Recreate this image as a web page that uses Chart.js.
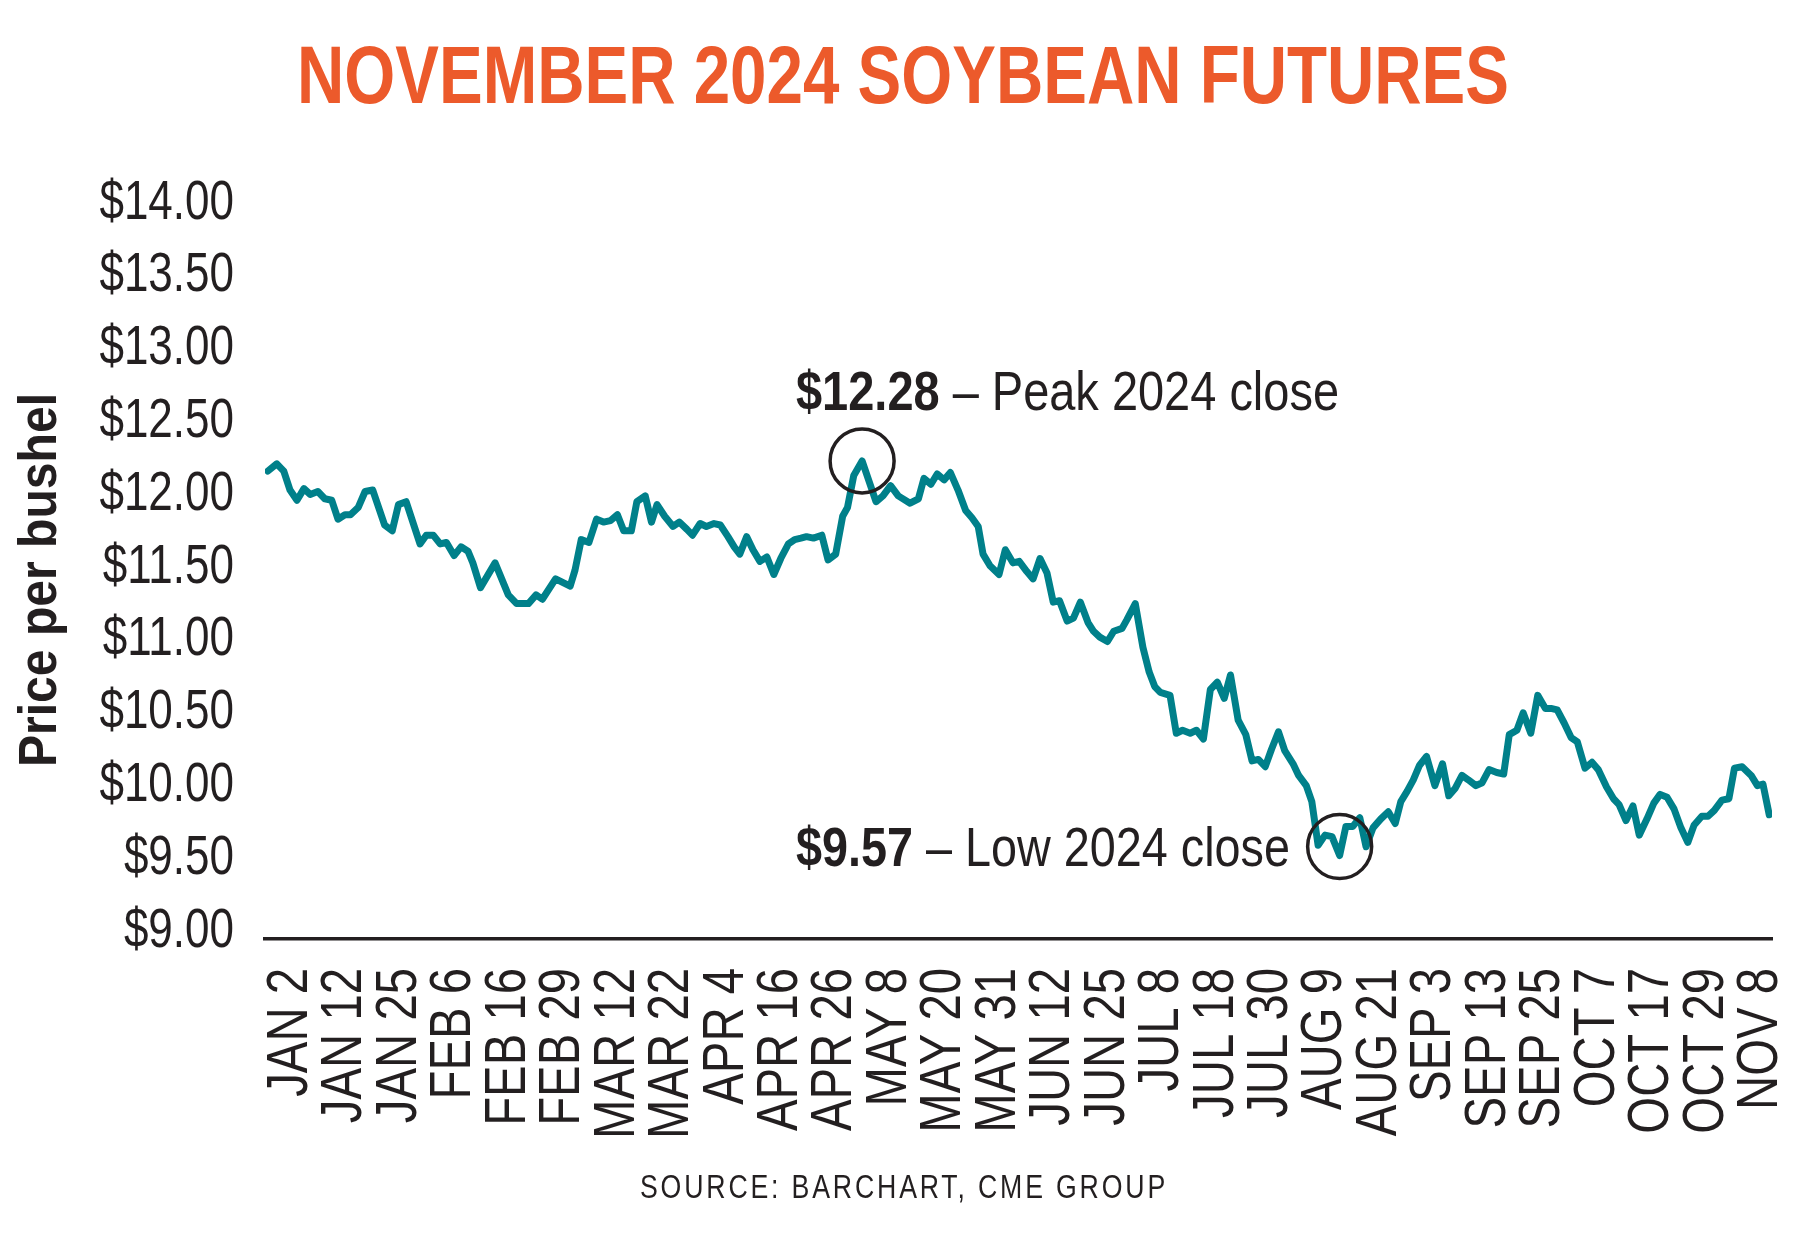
<!DOCTYPE html>
<html>
<head>
<meta charset="utf-8">
<script src="https://cdn.jsdelivr.net/npm/chart.js@4.4.1/dist/chart.umd.min.js"></script>
<style>
  html, body { margin: 0; padding: 0; background: #fff; }
  canvas { display: block; }
</style>
</head>
<body>
<canvas id="chart" width="1800" height="1236"></canvas>
<script>
// trading day index (0 = Jan 2) of each turn in the line, and the close there
const tradingDay = [
  0.0, 1.3, 2.3, 3.2, 4.2, 5.2, 6.1, 7.2, 8.2, 9.2, 10.1, 11.1, 11.9, 13.0, 14.0, 15.1, 16.8, 17.9, 18.8, 19.9,
  21.9, 22.8, 23.8, 24.8, 25.7, 26.8, 27.8, 28.8, 29.5, 30.6, 32.7, 34.6, 35.8, 37.5, 38.6, 39.5, 41.4, 43.5,
  44.2, 45.1, 46.2, 47.3, 48.3, 49.3, 50.3, 51.2, 52.3, 53.1, 54.3, 55.2, 56.0, 57.1, 58.3, 59.2, 60.3, 61.1,
  62.2, 63.1, 64.2, 65.1, 66.2, 67.1, 67.9, 68.9, 69.8, 70.8, 71.8, 72.8, 73.8, 74.9, 75.8, 76.7, 77.5, 78.5,
  79.7, 80.6, 81.7, 82.7, 83.4, 84.3, 85.5, 87.5, 88.5, 89.6, 90.7, 92.4, 93.6, 94.4, 95.4, 96.3, 97.3, 98.2,
  99.3, 100.4, 101.3, 102.2, 102.9, 103.9, 105.2, 106.1, 107.2, 108.1, 109.2, 110.1, 111.1, 112.1, 113.0, 113.9,
  115.0, 115.9, 116.9, 118.0, 118.8, 119.7, 120.8, 121.7, 122.9, 123.6, 124.8, 125.9, 126.8, 127.6, 128.4, 129.8,
  130.7, 131.6, 132.7, 133.6, 134.6, 135.6, 136.6, 137.6, 138.5, 139.6, 140.7, 141.6, 142.5, 143.5, 144.4, 145.4,
  146.3, 147.5, 148.3, 149.4, 150.2, 151.1, 152.1, 153.1, 154.2, 155.1, 156.1, 157.1, 158.0, 159.0, 160.1, 161.2,
  162.2, 163.0, 163.9, 164.8, 165.7, 166.7, 167.9, 169.0, 169.9, 170.8, 171.8, 172.7, 173.8, 174.7, 175.7, 176.8,
  177.8, 178.6, 179.7, 180.6, 181.7, 182.7, 183.8, 184.6, 185.5, 186.5, 187.5, 188.4, 189.5, 190.5, 191.4, 192.6,
  193.6, 194.4, 195.4, 196.4, 197.3, 198.4, 199.4, 200.3, 201.3, 202.3, 203.3, 204.3, 205.2, 206.3, 207.2, 208.1,
  209.2, 210.2, 211.0, 212.1, 213.4, 214.3, 215.1, 216.0
];
const closePrice = [
  12.21, 12.26, 12.21, 12.08, 12.01, 12.09, 12.05, 12.07, 12.02, 12.01, 11.88, 11.91, 11.91, 11.96, 12.07, 12.08, 11.84, 11.80, 11.98, 12.00,
  11.71, 11.77, 11.77, 11.71, 11.72, 11.63, 11.69, 11.66, 11.58, 11.41, 11.58, 11.36, 11.30, 11.30, 11.36, 11.33, 11.47, 11.42,
  11.53, 11.74, 11.72, 11.88, 11.86, 11.87, 11.91, 11.80, 11.80, 12.00, 12.04, 11.86, 11.98, 11.90, 11.83, 11.86, 11.81, 11.77,
  11.85, 11.83, 11.85, 11.84, 11.76, 11.69, 11.64, 11.76, 11.67, 11.59, 11.62, 11.50, 11.61, 11.71, 11.74, 11.75, 11.76, 11.75,
  11.77, 11.60, 11.64, 11.90, 11.96, 12.18, 12.28, 12.00, 12.04, 12.11, 12.04, 11.99, 12.02, 12.16, 12.12, 12.19, 12.15, 12.20,
  12.08, 11.94, 11.89, 11.83, 11.64, 11.56, 11.50, 11.67, 11.58, 11.59, 11.52, 11.47, 11.61, 11.51, 11.31, 11.32,
  11.18, 11.20, 11.31, 11.17, 11.11, 11.07, 11.04, 11.11, 11.13, 11.19, 11.30, 11.00, 10.83, 10.73, 10.69, 10.67,
  10.41, 10.43, 10.41, 10.43, 10.37, 10.71, 10.76, 10.65, 10.81, 10.50, 10.40, 10.22, 10.23, 10.18, 10.30, 10.42,
  10.29, 10.20, 10.12, 10.05, 9.94, 9.64, 9.71, 9.70, 9.57, 9.77, 9.77, 9.83, 9.63, 9.76, 9.82, 9.87,
  9.79, 9.94, 10.01, 10.09, 10.19, 10.25, 10.05, 10.20, 9.98, 10.03, 10.12, 10.09, 10.05, 10.07, 10.16, 10.14,
  10.13, 10.40, 10.43, 10.55, 10.41, 10.67, 10.58, 10.58, 10.57, 10.48, 10.38, 10.35, 10.17, 10.21, 10.16, 10.04,
  9.96, 9.92, 9.81, 9.91, 9.71, 9.82, 9.93, 9.99, 9.97, 9.89, 9.76, 9.66, 9.78, 9.84, 9.84, 9.88,
  9.95, 9.96, 10.17, 10.18, 10.12, 10.05, 10.06, 9.85
];
const xLabels = ['JAN 2', 'JAN 12', 'JAN 25', 'FEB 6', 'FEB 16', 'FEB 29', 'MAR 12', 'MAR 22', 'APR 4', 'APR 16',
  'APR 26', 'MAY 8', 'MAY 20', 'MAY 31', 'JUN 12', 'JUN 25', 'JUL 8', 'JUL 18', 'JUL 30', 'AUG 9', 'AUG 21',
  'SEP 3', 'SEP 13', 'SEP 25', 'OCT 7', 'OCT 17', 'OCT 29', 'NOV 8'];
const priceTicks = [9, 9.5, 10, 10.5, 11, 11.5, 12, 12.5, 13, 13.5, 14];
const peakClose = { day: 85.5, price: 12.28 };
const lowClose = { day: 154.2, price: 9.57 };

const INK = '#231f20';
const TEAL = '#00808a';
const sans = "'Liberation Sans', Arial, sans-serif";

// draws text squeezed to a given width
function squeeze(ctx, parts, x, y, width) {
  let total = 0;
  parts.forEach(p => { ctx.font = p.font; p.w = ctx.measureText(p.text).width; total += p.w; });
  ctx.save();
  ctx.translate(x, y);
  ctx.scale(width / total, 1);
  let cx = 0;
  parts.forEach(p => { ctx.font = p.font; ctx.fillText(p.text, cx, 0); cx += p.w; });
  ctx.restore();
}

// condensed tick labels and axis title, the fonts here have no narrow face
const tickText = {
  id: 'tickText',
  afterDraw(chart) {
    const ctx = chart.ctx;
    const ys = chart.scales.y, xl = chart.scales.xl;
    ctx.save();
    ctx.fillStyle = INK;
    ctx.font = '55px ' + sans;
    ctx.textAlign = 'right';
    ctx.textBaseline = 'alphabetic';
    ys.ticks.forEach(t => {
      ctx.save();
      ctx.translate(234, ys.getPixelForValue(t.value) + 8);
      ctx.scale(0.8, 1);
      ctx.fillText('$' + t.value.toFixed(2), 0, 0);
      ctx.restore();
    });
    ctx.font = '57px ' + sans;
    xl.ticks.forEach(t => {
      ctx.save();
      ctx.translate(xl.getPixelForValue(t.value) + 20, 968);
      ctx.rotate(-Math.PI / 2);
      ctx.scale(0.83, 1);
      ctx.fillText(xLabels[t.value], 0, 0);
      ctx.restore();
    });

    // y axis title
    ctx.textAlign = 'left';
    ctx.save();
    ctx.translate(56, 580);
    ctx.rotate(-Math.PI / 2);
    squeeze(ctx, [{ text: 'Price per bushel', font: 'bold 53px ' + sans }], -187, 0, 374);
    ctx.restore();
    ctx.restore();
  }
};

const decor = {
  id: 'decor',
  afterDraw(chart) {
    const ctx = chart.ctx;
    const xs = chart.scales.x, ys = chart.scales.y;
    ctx.save();
    ctx.textAlign = 'left';
    ctx.textBaseline = 'alphabetic';

    ctx.fillStyle = '#ec5a2b';
    squeeze(ctx, [{ text: 'NOVEMBER 2024 SOYBEAN FUTURES', font: 'bold 81px ' + sans }], 297, 103, 1212);

    ctx.fillStyle = INK;
    ctx.letterSpacing = '3.6px';
    squeeze(ctx, [{ text: 'SOURCE: BARCHART, CME GROUP', font: '34px ' + sans }], 640, 1198, 528);
    ctx.letterSpacing = '0px';

    // circles round the peak and the low
    ctx.strokeStyle = INK;
    ctx.lineWidth = 3.5;
    ctx.beginPath();
    ctx.arc(xs.getPixelForValue(peakClose.day), ys.getPixelForValue(peakClose.price), 32, 0, Math.PI * 2);
    ctx.stroke();
    ctx.beginPath();
    ctx.arc(xs.getPixelForValue(lowClose.day), ys.getPixelForValue(lowClose.price) - 9, 32, 0, Math.PI * 2);
    ctx.stroke();

    squeeze(ctx, [
      { text: '$' + peakClose.price.toFixed(2), font: 'bold 56px ' + sans },
      { text: ' \u2013 Peak 2024 close', font: '56px ' + sans }
    ], 796, 410, 543);
    squeeze(ctx, [
      { text: '$' + lowClose.price.toFixed(2), font: 'bold 56px ' + sans },
      { text: ' \u2013 Low 2024 close', font: '56px ' + sans }
    ], 796, 866, 494);
    ctx.restore();
  }
};

new Chart(document.getElementById('chart'), {
  type: 'line',
  data: {
    datasets: [{
      data: tradingDay.map((d, i) => ({ x: d, y: closePrice[i] })),
      borderColor: TEAL,
      borderWidth: 7,
      borderJoinStyle: 'round',
      borderCapStyle: 'round',
      pointRadius: 0,
      tension: 0,
      fill: false,
      xAxisID: 'x',
      yAxisID: 'y'
    }]
  },
  options: {
    responsive: false,
    devicePixelRatio: 1,
    animation: false,
    layout: { padding: { top: 210.5, right: 28, bottom: 0, left: 0 } },
    plugins: { legend: { display: false }, tooltip: { enabled: false } },
    scales: {
      x: { type: 'linear', display: false, min: -0.4, max: 216.4 },
      xl: {
        type: 'linear',
        position: 'bottom',
        min: -0.404,
        max: 27.2755,
        afterBuildTicks: s => { s.ticks = xLabels.map((_, i) => ({ value: i })); },
        afterFit: s => { s.height = 297.5; s.paddingLeft = 0; s.paddingRight = 0; },
        grid: { display: false, drawTicks: false },
        border: { display: true, color: INK, width: 3.5 },
        ticks: { display: false }
      },
      y: {
        type: 'linear',
        min: 9,
        max: 14,
        afterBuildTicks: s => { s.ticks = priceTicks.map(v => ({ value: v })); },
        afterFit: s => { s.width = 265; s.paddingTop = 0; s.paddingBottom = 0; },
        grid: { display: false, drawTicks: false },
        border: { display: false },
        ticks: { display: false },
        title: { display: false }
      }
    }
  },
  plugins: [tickText, decor]
});
</script>
</body>
</html>
